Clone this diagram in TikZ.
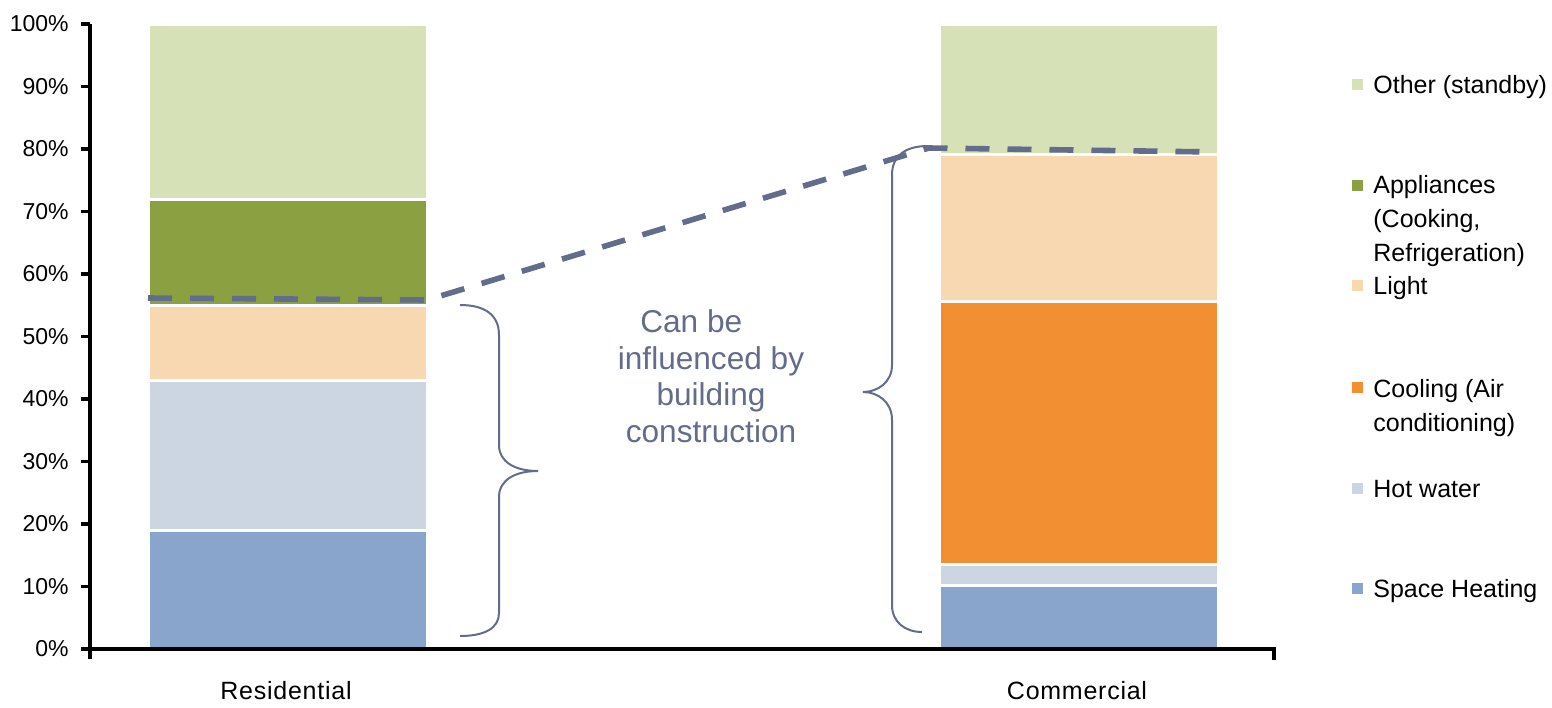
\documentclass[tikz,border=0pt]{standalone}
\usepackage{fontspec}
\setmainfont{Liberation Sans}
\usetikzlibrary{calc, positioning}

\definecolor{cOther}{RGB}{215,225,183}
\definecolor{cAppl}{RGB}{139,160,64}
\definecolor{cLight}{RGB}{248,216,176}
\definecolor{cCool}{RGB}{243,143,51}
\definecolor{cWater}{RGB}{203,214,226}
\definecolor{cHeat}{RGB}{138,165,203}
\definecolor{annot}{RGB}{100,108,140}

% percent -> y in px
\newcommand{\pc}[1]{649-6.25*#1}

\begin{document}
\begin{tikzpicture}[x=0.5pt, y=-0.5pt]
				\tikzstyle{bar} = [draw=white, line width=1.5pt]
				\tikzstyle{axis} = [draw=black, line width=1.8pt]
				\tikzstyle{tick} = [anchor=east, inner sep=0, font=\fontsize{11.5pt}{13pt}\selectfont]
				\tikzstyle{cat} = [anchor=base, inner sep=0, font=\fontsize{12.5pt}{14pt}\selectfont\addfontfeature{LetterSpace=3}]
				\tikzstyle{key} = [anchor=base west, inner sep=0, align=left, font=\fontsize{12.5pt}{17pt}\selectfont]
				\tikzstyle{swatch} = [minimum size=5.5pt, inner sep=0]
				\tikzstyle{guide} = [draw=annot, line width=2.8pt, dash pattern=on 12pt off 9pt]
				\tikzstyle{brace} = [draw=annot, line width=1pt]
				\tikzstyle{note} = [anchor=base, inner sep=0, text=annot, align=center, font=\fontsize{15.8pt}{18.25pt}\selectfont]
				
				\useasboundingbox (0,0) rectangle (1552,707);
				
				% bars
				\foreach \lo/\hi/\col in {0/19/cHeat, 19/43/cWater, 43/55/cLight, 55/72/cAppl, 72/100/cOther}
					\filldraw[bar, fill=\col] (148,{\pc{\lo}}) rectangle (427,{\pc{\hi}});
				\foreach \lo/\hi/\col in {0/10.2/cHeat, 10.2/13.6/cWater, 13.6/55.6/cCool, 55.6/79.2/cLight, 79.2/100/cOther}
					\filldraw[bar, fill=\col] (939,{\pc{\lo}}) rectangle (1218,{\pc{\hi}});
				
				% axes
				\draw[axis] (90,24) -- (90,659);
				\draw[axis] (90,649) -- (1274,649) -- (1274,660);
				\foreach \p in {0,10,...,100} {
					\draw[axis] (81,{\pc{\p}}) -- (90,{\pc{\p}});
					\node[tick] (t\p) at (69,{\pc{\p}}) {\p\%};
				}
				\node[cat] (res) at (286,699) {Residential};
				\node[cat] (com) at (1077,699) {Commercial};
				
				% dashed guide
				\coordinate (g1) at (148,298);
				\coordinate (g2) at (427,300);
				\coordinate (g3) at (929,148);
				\coordinate (g4) at (1214,152);
				\draw[guide] (g1) -- (g2) -- (g3) -- (g4);
				
				% braces
				\draw[brace] (460,305) .. controls (485,305) and (499,315) .. (499,335) -- (499,445)
					.. controls (499,462) and (515,471) .. (538,471)
					.. controls (515,471) and (499,480) .. (499,497) -- (499,613)
					.. controls (499,628) and (485,636) .. (460,636);
				\draw[brace] (928,146) .. controls (905,146) and (892,156) .. (892,175) -- (892,365)
					.. controls (892,382) and (878,392) .. (863,392)
					.. controls (878,392) and (892,402) .. (892,420) -- (892,605)
					.. controls (892,622) and (905,632) .. (922,632);
				
				\node[note] (note) at (711,442) {Can be\hspace*{1.25em}\\influenced by\\building\\construction};
				
				% legend (swatch y / last baseline y)
				\foreach \s/\y/\col/\txt in {84/93/cOther/{Other (standby)}, 185/261/cAppl/{Appliances\\(Cooking,\\Refrigeration)}, 285/294/cLight/{Light}, 387/431/cCool/{Cooling (Air\\conditioning)}, 488/497/cWater/{Hot water}, 588/597/cHeat/{Space Heating}} {
					\node[swatch, fill=\col] (s\s) at (1357,\s) {};
					\node[key] (k\s) at (1373,\y) {\txt};
				}
\end{tikzpicture}
\end{document}
